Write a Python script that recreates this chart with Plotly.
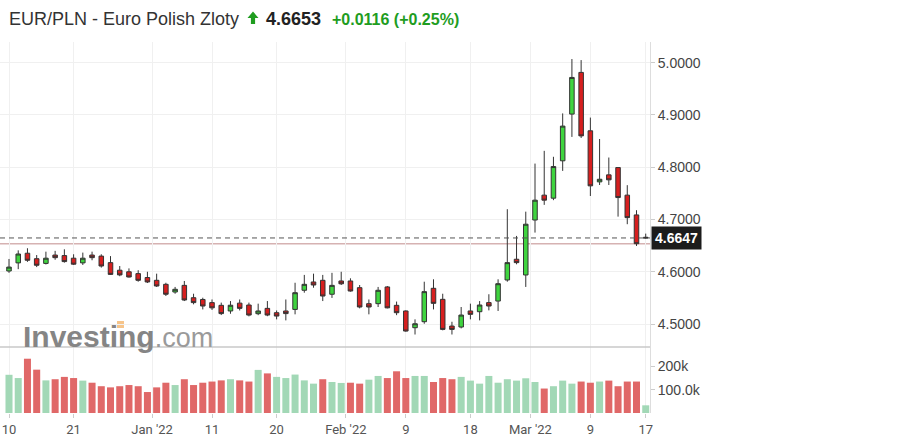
import plotly.graph_objects as go

# ---------------- data ----------------
dates = [
    "2021-12-10", "2021-12-13", "2021-12-14", "2021-12-15", "2021-12-16", "2021-12-17",
    "2021-12-20", "2021-12-21", "2021-12-22", "2021-12-23", "2021-12-24", "2021-12-27",
    "2021-12-28", "2021-12-29", "2021-12-30", "2021-12-31",
    "2022-01-03", "2022-01-04", "2022-01-05", "2022-01-06", "2022-01-07",
    "2022-01-10", "2022-01-11", "2022-01-12", "2022-01-13", "2022-01-14",
    "2022-01-17", "2022-01-18", "2022-01-19", "2022-01-20", "2022-01-21",
    "2022-01-24", "2022-01-25", "2022-01-26", "2022-01-27", "2022-01-28", "2022-01-31",
    "2022-02-01", "2022-02-02", "2022-02-03", "2022-02-04",
    "2022-02-07", "2022-02-08", "2022-02-09", "2022-02-10", "2022-02-11",
    "2022-02-14", "2022-02-15", "2022-02-16", "2022-02-17", "2022-02-18",
    "2022-02-21", "2022-02-22", "2022-02-23", "2022-02-24", "2022-02-25", "2022-02-28",
    "2022-03-01", "2022-03-02", "2022-03-03", "2022-03-04",
    "2022-03-07", "2022-03-08", "2022-03-09", "2022-03-10", "2022-03-11",
    "2022-03-14", "2022-03-15", "2022-03-16", "2022-03-17",
]

open_ = [4.6015, 4.617, 4.6355, 4.625, 4.616, 4.632, 4.631, 4.626, 4.617, 4.632,
         4.630, 4.6175, 4.603, 4.600, 4.5965, 4.589, 4.5837, 4.576, 4.5613, 4.574,
         4.5504, 4.547, 4.541, 4.5358, 4.525, 4.540, 4.5364, 4.5198, 4.530, 4.5217,
         4.525, 4.528, 4.5646, 4.5805, 4.5837, 4.557, 4.5824, 4.5824, 4.5696, 4.539,
         4.539, 4.571, 4.5358, 4.525, 4.4930, 4.5045, 4.5684, 4.5473, 4.4962, 4.4943,
         4.525, 4.5236, 4.541, 4.544, 4.5843, 4.624, 4.5939, 4.699, 4.7466, 4.7408,
         4.8123, 4.9017, 4.9814, 4.8697, 4.772, 4.7854, 4.7994, 4.7466, 4.7088, 4.666]
high = [4.6245, 4.641, 4.645, 4.632, 4.6385, 4.640, 4.643, 4.6335, 4.6367, 4.6385,
        4.6335, 4.630, 4.611, 4.6065, 4.603, 4.600, 4.5964, 4.579, 4.571, 4.5824,
        4.558, 4.5504, 4.547, 4.541, 4.544, 4.547, 4.541, 4.539, 4.544, 4.526,
        4.547, 4.579, 4.594, 4.5964, 4.594, 4.598, 4.600, 4.5875, 4.5747, 4.547,
        4.571, 4.5728, 4.543, 4.5262, 4.509, 4.581, 4.5856, 4.558, 4.5044, 4.5326,
        4.539, 4.544, 4.557, 4.5856, 4.7197, 4.6686, 4.715, 4.807, 4.8314, 4.820,
        4.903, 5.007, 5.005, 4.895, 4.854, 4.8186, 4.7994, 4.7657, 4.7178, 4.673]
low = [4.598, 4.605, 4.619, 4.609, 4.614, 4.623, 4.6175, 4.613, 4.613, 4.622,
       4.608, 4.594, 4.5915, 4.589, 4.581, 4.5785, 4.571, 4.5536, 4.558, 4.544,
       4.5377, 4.528, 4.527, 4.5172, 4.5197, 4.526, 4.5147, 4.517, 4.515, 4.509,
       4.507, 4.5186, 4.560, 4.5695, 4.544, 4.550, 4.5747, 4.562, 4.530, 4.5186,
       4.5326, 4.530, 4.517, 4.4853, 4.480, 4.5006, 4.528, 4.488, 4.480, 4.4917,
       4.509, 4.507, 4.5262, 4.525, 4.581, 4.6143, 4.571, 4.675, 4.728, 4.737,
       4.793, 4.858, 4.856, 4.745, 4.766, 4.766, 4.7055, 4.691, 4.6494, 4.6635]
close = [4.609, 4.634, 4.622, 4.6125, 4.626, 4.627, 4.6195, 4.6145, 4.626, 4.627,
         4.611, 4.595, 4.594, 4.590, 4.5837, 4.5805, 4.5728, 4.557, 4.5665, 4.546,
         4.541, 4.5345, 4.531, 4.520, 4.536, 4.530, 4.5172, 4.525, 4.5172, 4.5153,
         4.520, 4.560, 4.576, 4.5747, 4.5536, 4.574, 4.577, 4.5632, 4.5326, 4.5326,
         4.5646, 4.531, 4.5217, 4.4866, 4.5006, 4.562, 4.5396, 4.4898, 4.4898, 4.5172,
         4.5186, 4.5364, 4.5345, 4.5772, 4.6175, 4.6175, 4.691, 4.737, 4.737, 4.8013,
         4.8787, 4.9718, 4.860, 4.7644, 4.777, 4.7759, 4.742, 4.7036, 4.6537, 4.6647]

volume_k = [164, 150, 233, 186, 140, 145, 155, 150, 139, 130,
            115, 110, 115, 120, 115, 90, 110, 130, 120, 145,
            120, 130, 135, 140, 145, 140, 135, 185, 170, 155,
            150, 165, 140, 126, 145, 133, 129, 130, 126, 143,
            159, 150, 179, 150, 159, 159, 133, 150, 145, 155,
            139, 126, 159, 130, 145, 139, 149, 133, 105, 115,
            139, 126, 135, 130, 135, 139, 115, 135, 135, 33]
volume_up = "GGRRGRRRGRRRRRRRRRGRRRRRGRRGRGGGGGRGGRRGGRRRGGRRRGGGGGGGGGRGGGRRGRRRRG"

last_price = 4.6647
prev_close = 4.6537
title_name = "EUR/PLN - Euro Polish Zloty"
title_price = "4.6653"
title_change = "+0.0116 (+0.25%)"

tick_dates = ["2021-12-10", "2021-12-21", "2022-01-03", "2022-01-11", "2022-01-20",
              "2022-02-01", "2022-02-09", "2022-02-18", "2022-03-01", "2022-03-09", "2022-03-17"]
tick_labels = ["10", "21", "Jan '22", "11", "20", "Feb '22", "9", "18", "Mar '22", "9", "17"]
month_starts = {"Jan '22", "Feb '22", "Mar '22"}

price_ticks = [4.5, 4.6, 4.7, 4.8, 4.9, 5.0]
vol_ticks = [100000, 200000]
vol_tick_labels = ["100.0k", "200k"]

# ---------------- layout geometry (pixels) ----------------
W, H = 920, 440
PL, PR, PT, PB = 0, 650, 42, 413
SEP = 347


def px_x(px):
    return (px - PL) / (PR - PL)


def px_y(py):
    return (PB - py) / (PB - PT)


xs = list(range(len(dates)))
tickvals = []
for d, lab in zip(tick_dates, tick_labels):
    i = dates.index(d)
    tickvals.append(i - 0.5 if lab in month_starts else i)

GREEN_VOL = "#a2d8b6"
RED_VOL = "#e06868"
vol_colors = [GREEN_VOL if c == "G" else RED_VOL for c in volume_up]
volume = [v * 1000 for v in volume_k]

fig = go.Figure()
fig.add_trace(go.Candlestick(
    x=xs, open=open_, high=high, low=low, close=close,
    increasing=dict(fillcolor="#3fd43f", line=dict(color="#333333", width=1)),
    decreasing=dict(fillcolor="#d61f1f", line=dict(color="#333333", width=1)),
    whiskerwidth=0, xaxis="x", yaxis="y", hoverinfo="skip", showlegend=False,
))
fig.add_trace(go.Bar(
    x=xs, y=volume, marker=dict(color=vol_colors, line=dict(width=0)),
    xaxis="x", yaxis="y2", hoverinfo="skip", showlegend=False,
))

dom_split = px_y(SEP)
y_top_val = 5.0 + (62.7 - PT) / 522.7
y_bot_val = 5.0 - (SEP - 62.7) / 522.7
spacing = 9.228
x0_px = 9.0
xr = [(PL - x0_px) / spacing, (PR - x0_px) / spacing]
vol_top = (PB - SEP) / 23.3 * 100000

AX_FONT = dict(family="Liberation Sans, Arial, sans-serif", size=14, color="#444444")


def arrow_path(cx, top, bottom, head_w, head_h, stem_w):
    pts = [
        (cx, top),
        (cx + head_w / 2, top + head_h),
        (cx + stem_w / 2, top + head_h),
        (cx + stem_w / 2, bottom),
        (cx - stem_w / 2, bottom),
        (cx - stem_w / 2, top + head_h),
        (cx - head_w / 2, top + head_h),
    ]
    return "M " + " L ".join("%.5f,%.5f" % (px_x(a), px_y(b)) for a, b in pts) + " Z"


fig.update_layout(
    width=W, height=H,
    margin=dict(l=PL, r=W - PR, t=PT, b=H - PB, pad=0),
    paper_bgcolor="white", plot_bgcolor="white",
    bargap=0.24,
    xaxis=dict(
        type="linear", range=xr, tickvals=tickvals, ticktext=tick_labels,
        ticks="outside", ticklen=4, tickcolor="#cccccc",
        tickfont=dict(family="Roboto, sans-serif", size=13, color="#555555"),
        showgrid=True, gridcolor="#f0f0f0", zeroline=False, showline=False,
        anchor="y2", rangeslider=dict(visible=False), fixedrange=True,
    ),
    yaxis=dict(
        domain=[dom_split, 1], side="right", range=[y_bot_val, y_top_val],
        tickvals=price_ticks, tickformat=".4f", ticks="outside", ticklen=4,
        tickcolor="#cccccc", tickfont=AX_FONT, showgrid=True, gridcolor="#f0f0f0",
        zeroline=False, showline=True, linecolor="#dddddd", linewidth=1,
        anchor="x",
    ),
    yaxis2=dict(
        domain=[0, dom_split], side="right", range=[0, vol_top],
        tickvals=vol_ticks, ticktext=vol_tick_labels, ticks="outside", ticklen=4,
        tickcolor="#cccccc", tickfont=AX_FONT, showgrid=False,
        zeroline=False, showline=True, linecolor="#dddddd", linewidth=1,
        anchor="x",
    ),
    shapes=[
        dict(type="line", xref="paper", yref="paper", x0=0, x1=1, y0=dom_split, y1=dom_split,
             line=dict(color="#c8c8c8", width=1.5), layer="above"),
        dict(type="line", xref="paper", yref="y", x0=0, x1=1, y0=prev_close, y1=prev_close,
             line=dict(color="#d6b2b2", width=1.5), layer="below"),
        dict(type="line", xref="paper", yref="y", x0=0, x1=1, y0=last_price, y1=last_price,
             line=dict(color="#555555", width=1, dash="5px,4px"), layer="above"),
        # green up arrow of the title
        dict(type="path", xref="paper", yref="paper",
             path=arrow_path(253, 11.5, 24, 11, 6.5, 4.2),
             fillcolor="#1f9d1f", line=dict(width=0), layer="above"),
        # orange dot of the logo
        dict(type="rect", xref="paper", yref="paper", x0=px_x(117), x1=px_x(124),
             y0=px_y(328), y1=px_y(321), fillcolor="#f6c48a", line=dict(width=0), layer="below"),
    ],
    annotations=[
        dict(xref="paper", yref="paper", x=px_x(7), y=px_y(19), xanchor="left", yanchor="middle",
             text=title_name, showarrow=False,
             font=dict(family="Liberation Sans, Arial, sans-serif", size=18, color="#333333")),
        dict(xref="paper", yref="paper", x=px_x(264), y=px_y(19), xanchor="left", yanchor="middle",
             text="<b>" + title_price + "</b>", showarrow=False,
             font=dict(family="Liberation Sans, Arial, sans-serif", size=18, color="#222222")),
        dict(xref="paper", yref="paper", x=px_x(330), y=px_y(19.5), xanchor="left", yanchor="middle",
             text="<b>" + title_change + "</b>", showarrow=False,
             font=dict(family="Liberation Sans, Arial, sans-serif", size=16, color="#1f9d1f")),
        dict(xref="paper", yref="y", x=1, y=last_price, xanchor="left", yanchor="middle",
             xshift=1, text="<b>%.4f</b>" % last_price, showarrow=False, bgcolor="#1c1c1c",
             borderpad=3,
             font=dict(family="Liberation Sans, Arial, sans-serif", size=14, color="white")),
        dict(xref="paper", yref="paper", x=px_x(21), y=px_y(336), xanchor="left", yanchor="middle",
             text="<b>Investing</b><span style='font-size:27px;color:#9a9a9a'>.com</span>",
             showarrow=False,
             font=dict(family="Liberation Sans, Arial, sans-serif", size=30, color="#858585")),
    ],
)

fig.write_html("out.html")
